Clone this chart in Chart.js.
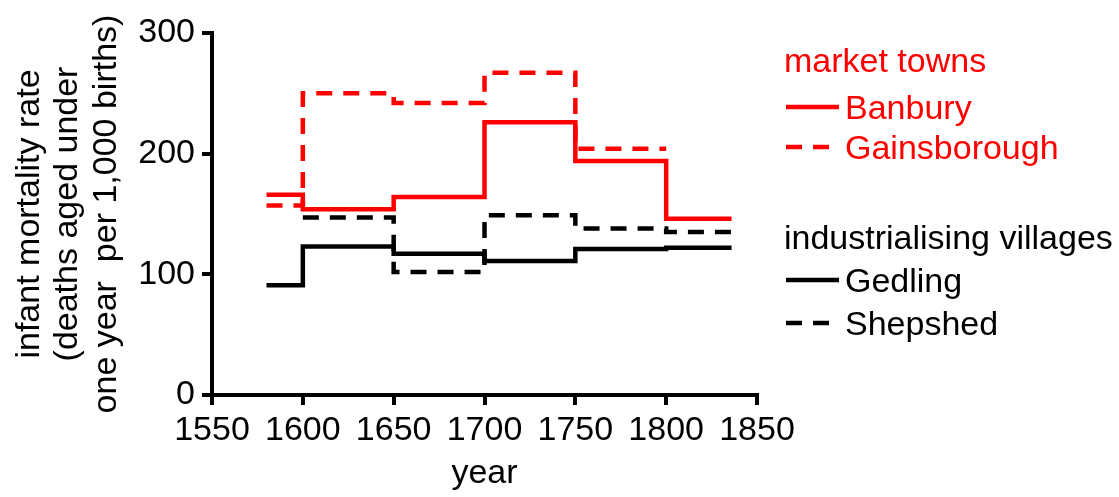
<!DOCTYPE html>
<html>
<head>
<meta charset="utf-8">
<script src="https://cdn.jsdelivr.net/npm/chart.js@4"></script>
<style>
  body { margin: 0; background: #fff; }
  #wrap { position: relative; width: 1119px; height: 497px; }
  .lg { position: absolute; font: 34px 'Liberation Sans', Arial, sans-serif; line-height: 40px; white-space: nowrap; }
  svg.key { position: absolute; left: 786px; width: 54px; height: 8px; }
</style>
</head>
<body>
<div id="wrap">
  <canvas id="chart" width="1119" height="497"></canvas>
</div>
<script>
// period boundaries (years); each value holds from bound[i] to bound[i+1]
const bounds = [1580, 1600, 1650, 1700, 1750, 1800, 1836];
const banbury = [166, 154, 164, 226, 194, 146];
const gainsborough = [157, 250, 242, 267, 204, null];
const gedling = [91, 123, 117, 111, 121, 122];
const shepshed = [null, 147, 102, 149, 138, 135];

const xTicks = [1550, 1600, 1650, 1700, 1750, 1800, 1850];
const yTicks = [0, 100, 200, 300];

const groups = [
  { title: "market towns", color: "#ff0000", items: [
    { name: "Banbury", dash: [] },
    { name: "Gainsborough", dash: [16, 11] }
  ]},
  { title: "industrialising villages", color: "#000000", items: [
    { name: "Gedling", dash: [] },
    { name: "Shepshed", dash: [16, 11] }
  ]}
];

function steps(vals) {
  const pts = [];
  let last = -1;
  vals.forEach((v, i) => {
    if (v == null) return;
    pts.push({ x: bounds[i], y: v });
    last = i;
  });
  pts.push({ x: bounds[last + 1], y: vals[last] });
  return pts;
}

function series(label, vals, color, dash) {
  return {
    label,
    data: steps(vals),
    borderColor: color,
    backgroundColor: color,
    borderWidth: 4.5,
    borderDash: dash,
    borderCapStyle: "butt",
    pointRadius: 0,
    stepped: true,
    fill: false
  };
}

Chart.defaults.font.family = "'Liberation Sans', Arial, sans-serif";
Chart.defaults.font.size = 34;
Chart.defaults.color = "#000";

const axisCommon = {
  type: "linear",
  grid: { display: true, drawOnChartArea: false, drawTicks: true, tickLength: 10, color: "#000", lineWidth: 4 },
  border: { display: true, color: "#000", width: 4 }
};

new Chart(document.getElementById("chart").getContext("2d"), {
  type: "line",
  data: {
    datasets: [
      series("Banbury", banbury, "#ff0000", []),
      series("Gainsborough", gainsborough, "#ff0000", [16, 11]),
      series("Gedling", gedling, "#000000", []),
      series("Shepshed", shepshed, "#000000", [16, 11])
    ]
  },
  options: {
    responsive: false,
    animation: false,
    layout: { padding: { top: 33, right: 362, left: 0, bottom: 0 } },
    plugins: { legend: { display: false }, tooltip: { enabled: false } },
    scales: {
      x: {
        ...axisCommon,
        position: "bottom",
        min: 1550,
        max: 1850,
        afterBuildTicks: s => { s.ticks = xTicks.map(v => ({ value: v })); },
        afterFit: s => { s.height = 102; },
        ticks: { padding: 5, maxRotation: 0, autoSkip: false, callback: v => String(v) },
        title: { display: true, text: "year", font: { size: 34, lineHeight: 1.12 }, padding: { top: 0, bottom: 4 } }
      },
      y: {
        ...axisCommon,
        position: "left",
        min: 0,
        max: 300,
        afterBuildTicks: s => { s.ticks = yTicks.map(v => ({ value: v })); },
        afterFit: s => { s.width = 212; },
        ticks: { padding: 7, callback: v => String(v) },
        title: {
          display: true,
          text: ["infant mortality rate", "(deaths aged under", "one year  per 1,000 births)"],
          font: { size: 34, lineHeight: 1.12 },
          padding: { top: 11, bottom: 0 }
        }
      }
    }
  }
});

// legend as html text, placed to the right of the plot
const wrap = document.getElementById("wrap");
const titleTops = [40, 217];
const itemTops = [[87, 127], [260, 303]];
groups.forEach((g, gi) => {
  const t = document.createElement("div");
  t.className = "lg";
  t.style.color = g.color;
  t.style.left = "784px";
  t.style.top = titleTops[gi] + "px";
  t.textContent = g.title;
  wrap.appendChild(t);
  g.items.forEach((it, ii) => {
    const top = itemTops[gi][ii];
    const d = document.createElement("div");
    d.className = "lg";
    d.style.color = g.color;
    d.style.left = "845px";
    d.style.top = top + "px";
    d.textContent = it.name;
    wrap.appendChild(d);
    const svg = document.createElementNS("http://www.w3.org/2000/svg", "svg");
    svg.setAttribute("class", "key");
    svg.style.top = (top + 16) + "px";
    const ln = document.createElementNS("http://www.w3.org/2000/svg", "line");
    ln.setAttribute("x1", 0); ln.setAttribute("x2", 53);
    ln.setAttribute("y1", 4); ln.setAttribute("y2", 4);
    ln.setAttribute("stroke", g.color);
    ln.setAttribute("stroke-width", 4.5);
    if (it.dash.length) ln.setAttribute("stroke-dasharray", it.dash.join(" "));
    svg.appendChild(ln);
    wrap.appendChild(svg);
  });
});
</script>
</body>
</html>
